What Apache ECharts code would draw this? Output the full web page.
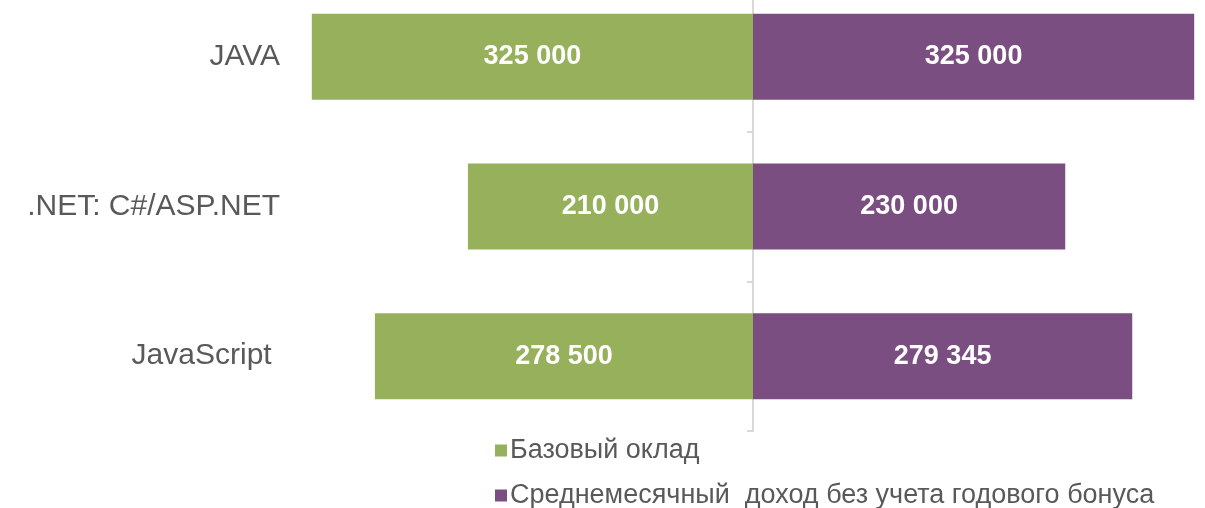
<!DOCTYPE html>
<html>
<head>
<meta charset="utf-8">
<title>Зарплаты</title>
<script src="https://cdn.jsdelivr.net/npm/echarts@6/dist/echarts.min.js"></script>
<style>
    html, body { margin: 0; padding: 0; background: #fff; overflow: hidden; }
    /* верх оси обрезан краем картинки — сдвигаем контейнер вверх */
    #chart { width: 1205px; height: 526px; margin-top: -18px; }
</style>
</head>
<body>
<div id="chart"></div>
<script>
// данные (снизу вверх)
const categories = ['JavaScript ', '.NET: C#/ASP.NET', 'JAVA']
const baseSalary = [278500, 210000, 325000]
const monthlyIncome = [279345, 230000, 325000]
const seriesNames = ['Базовый оклад', 'Среднемесячный  доход без учета годового бонуса']

// формат: 325 000
function fmt(v) {
    return String(Math.abs(v)).replace(/\B(?=(\d{3})+(?!\d))/g, ' ')
}

const chart = echarts.init(document.getElementById('chart'))

let option = {
    animation: false,
    textStyle: { fontFamily: 'Liberation Sans, Arial, sans-serif' },
    grid: {
        left: 305,
        right: 4,
        top: 0,
        height: 449,
    },
    xAxis: {
        type: 'value',
        min: -330000,
        max: 330000,
        show: false,
    },
    yAxis: [
        {
            // подписи категорий слева
            type: 'category',
            data: categories,
            position: 'left',
            axisLine: { show: false, onZero: false },
            axisTick: { show: false },
            axisLabel: {
                color: '#595959',
                fontSize: 30,
                margin: 25,
                padding: [4, 0, 0, 0],
            },
        },
        {
            // центральная ось с засечками
            type: 'category',
            data: categories,
            position: 'left',
            axisLine: {
                onZero: true,
                lineStyle: { color: '#d9d9d9', width: 2 },
            },
            axisTick: {
                show: true,
                length: 6,
                lineStyle: { color: '#d9d9d9', width: 2 },
            },
            axisLabel: { show: false },
        },
    ],
    legend: {
        orient: 'vertical',
        left: 490,
        top: 450,
        height: 120,
        icon: 'rect',
        itemWidth: 12,
        itemHeight: 12,
        itemGap: 18,
        textStyle: { color: '#595959', fontSize: 27, padding: [0, 0, 0, -2] },
        data: seriesNames,
    },
    series: [
        {
            name: seriesNames[0],
            type: 'bar',
            yAxisIndex: 0,
            barWidth: 86,
            barGap: '-100%',
            data: baseSalary.map(v => -v),
            itemStyle: { color: '#97b05c' },
            label: {
                show: true,
                position: 'inside',
                color: '#fff',
                fontWeight: 'bold',
                fontSize: 27,
                formatter: p => fmt(p.value),
            },
        },
        {
            name: seriesNames[1],
            type: 'bar',
            yAxisIndex: 0,
            barWidth: 86,
            barGap: '-100%',
            data: monthlyIncome,
            itemStyle: { color: '#7a4e80' },
            label: {
                show: true,
                position: 'inside',
                color: '#fff',
                fontWeight: 'bold',
                fontSize: 27,
                formatter: p => fmt(p.value),
            },
        },
    ],
}

chart.setOption(option)
</script>
</body>
</html>
